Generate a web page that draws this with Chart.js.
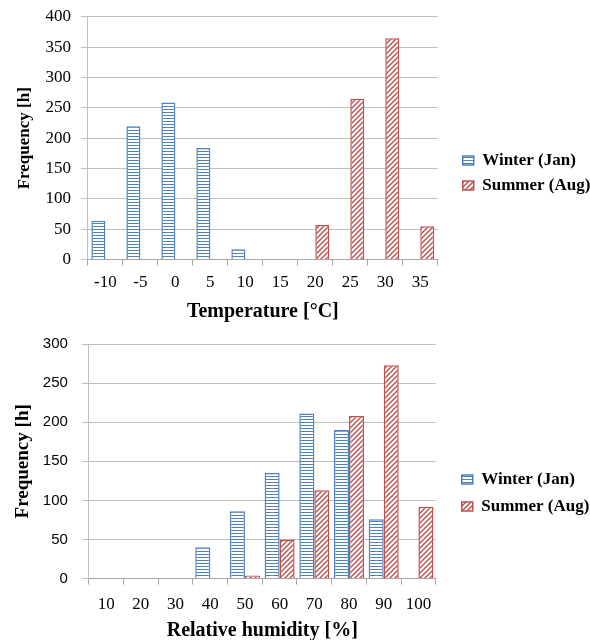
<!DOCTYPE html>
<html><head><meta charset="utf-8">
<script src="https://cdn.jsdelivr.net/npm/chart.js@4/dist/chart.umd.min.js"></script>
<style>
body{margin:0;background:#fff;width:590px;height:640px;overflow:hidden;position:relative}
.box{position:absolute;left:0;width:590px}
</style></head><body>
<div class="box" style="top:0;height:330px"><canvas id="c1"></canvas></div>
<div class="box" style="top:328px;height:322px"><canvas id="c2"></canvas></div>
<script>
const tempLabels = ['-10','-5','0','5','10','15','20','25','30','35'];
const tempWinter = [64,220,259,184,17,0,0,0,0,0];
const tempSummer = [0,0,0,0,0,0,57,265,365,55];
const rhLabels = ['10','20','30','40','50','60','70','80','90','100'];
const rhWinter = [0,0,0,40,86,135,211,190,76,0];
const rhSummer = [0,0,0,0,4,50,113,208,273,92];
const seriesNames = ['Winter (Jan)','Summer (Aug)'];

const SERIF = "'Liberation Serif','Times New Roman',serif";
const SANS = "'Liberation Sans',Arial,sans-serif";
const BLUE = '#4F81BD', RED = '#C0504D';

function makePattern(type){
  const c = document.createElement('canvas');
  const ctx = c.getContext('2d');
  if(type === 'h'){
    c.width = 4; c.height = 3;
    ctx.fillStyle = '#fff'; ctx.fillRect(0,0,4,3);
    ctx.fillStyle = BLUE; ctx.fillRect(0,1,4,1);
  } else {
    c.width = 5; c.height = 5;
    ctx.fillStyle = '#fff'; ctx.fillRect(0,0,5,5);
    ctx.strokeStyle = RED; ctx.lineWidth = 1.4;
    for(const o of [-5,0,5]){
      ctx.beginPath(); ctx.moveTo(o-1,6); ctx.lineTo(o+6,-1); ctx.stroke();
    }
  }
  return c.getContext('2d').createPattern(c,'repeat');
}
const winterPat = makePattern('h');
const summerPat = makePattern('d');

// nudges the legend box after layout
const legendShift = {
  id:'legendShift',
  afterLayout(chart, args, opts){
    const l = chart.legend;
    if(!l) return;
    l.left += opts.dx; l.right += opts.dx;
    l.top += opts.dy; l.bottom += opts.dy;
  }
};

function makeChart(id, labels, w, s, o){
  return new Chart(document.getElementById(id), {
    type:'bar',
    plugins:[legendShift],
    data:{labels:labels, datasets:[
      {label:seriesNames[0], data:w, backgroundColor:winterPat, borderColor:BLUE, borderWidth:1.5},
      {label:seriesNames[1], data:s, backgroundColor:summerPat, borderColor:RED, borderWidth:1.5}
    ]},
    options:{
      responsive:true, maintainAspectRatio:false, animation:false,
      datasets:{bar:{categoryPercentage:o.cp, barPercentage:1}},
      layout:{padding:o.pad},
      plugins:{
        legend:{position:'right', labels:{font:{family:SERIF,size:17,weight:'bold'}, color:'#000', boxWidth:11, boxHeight:9, padding:o.legPad}},
        legendShift:{dx:o.dx, dy:o.dy},
        tooltip:{enabled:false}
      },
      scales:{
        x:{
          grid:{offset:true, drawOnChartArea:false, tickLength:6, color:'#a6a6a6'},
          border:{color:'#a6a6a6'},
          ticks:{font:{family:SERIF,size:17}, color:'#000', padding:o.xTickPad, maxRotation:0},
          title:{display:true, text:o.xTitle, font:{family:SERIF,size:20,weight:'bold',lineHeight:o.xTitleLH}, color:'#000', padding:{top:o.xTitlePad,bottom:0}}
        },
        y:{
          min:0, max:o.max,
          ticks:{stepSize:50, font:{family:o.yFont,size:o.yFontSize,lineHeight:o.yTickLH}, color:'#000', padding:o.yTickPad},
          grid:{color:'#bfbfbf', tickLength:7},
          border:{color:'#bfbfbf'},
          title:{display:true, text:'Frequency [h]', font:{family:SERIF,size:o.yTitleSize,weight:'bold'}, color:'#000', padding:{top:0,bottom:o.yTitlePad}}
        }
      }
    }
  });
}

makeChart('c1', tempLabels, tempWinter, tempSummer, {
  cp:0.8, max:400, xTitle:'Temperature [°C]', yFont:SERIF, yFontSize:17, yTickLH:0.82, yTitleSize:17,
  xTickPad:7, xTitlePad:0, xTitleLH:1.2, yTickPad:10, yTitlePad:1, legPad:8, dx:17, dy:8.5,
  pad:{left:14,right:11,top:5,bottom:6}
});
makeChart('c2', rhLabels, rhWinter, rhSummer, {
  cp:0.865, max:300, xTitle:'Relative humidity [%]', yFont:SANS, yFontSize:15, yTickLH:0.27, yTitleSize:19,
  xTickPad:10, xTitlePad:-4, xTitleLH:1, yTickPad:14, yTitlePad:-6, legPad:10, dx:16, dy:6.5,
  pad:{left:12,right:13,top:4,bottom:9}
});
</script>
</body></html>
